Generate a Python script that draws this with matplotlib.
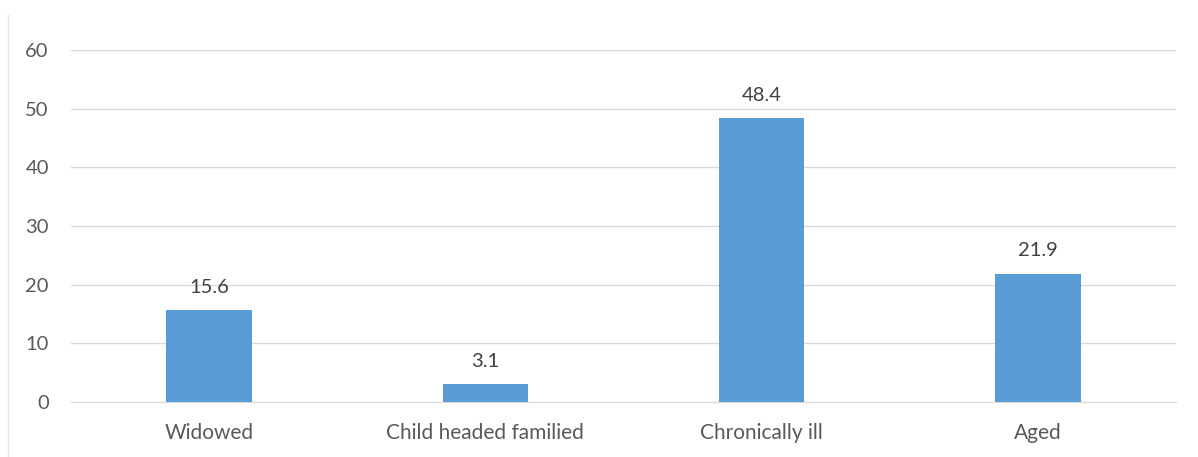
import matplotlib
matplotlib.use("Agg")
import matplotlib.pyplot as plt
from matplotlib.lines import Line2D

categories = ["Widowed", "Child headed familied", "Chronically ill", "Aged"]
values = [15.6, 3.1, 48.4, 21.9]
yticks = [0, 10, 20, 30, 40, 50, 60]

plt.rcParams['font.family'] = ['Lato', 'DejaVu Sans']

fig = plt.figure(figsize=(11.98, 4.57), dpi=100)
ax = fig.add_axes([0.0593, 0.1204, 0.9223, 0.7702])

x = range(len(categories))
bars = ax.bar(x, values, width=0.31, color='#5B9BD5', zorder=3)

for b, v in zip(bars, values):
    ax.text(b.get_x() + b.get_width() / 2, v + 2.4, f"{v}", ha='center', va='bottom',
            fontsize=14.5, color='#404040')

ax.set_xlim(-0.5, len(categories) - 0.5)
ax.set_ylim(0, 60)
ax.set_yticks(yticks)
ax.set_xticks(list(x))
ax.set_xticklabels(categories)
ax.tick_params(axis='both', length=0, labelsize=14.5, labelcolor='#595959')
ax.tick_params(axis='x', pad=15, labelsize=15)
ax.tick_params(axis='y', pad=16)

ax.grid(axis='y', color='#D9D9D9', linewidth=1, zorder=0)
for s in ['top', 'right', 'left']:
    ax.spines[s].set_visible(False)
ax.spines['bottom'].set_color('#D9D9D9')

# faint chart frame at the left edge
fig.add_artist(Line2D([0.0067, 0.0067], [0.0, 0.967], transform=fig.transFigure,
                      color='#E6E6E6', linewidth=1))

fig.savefig("out.png", dpi=100)
